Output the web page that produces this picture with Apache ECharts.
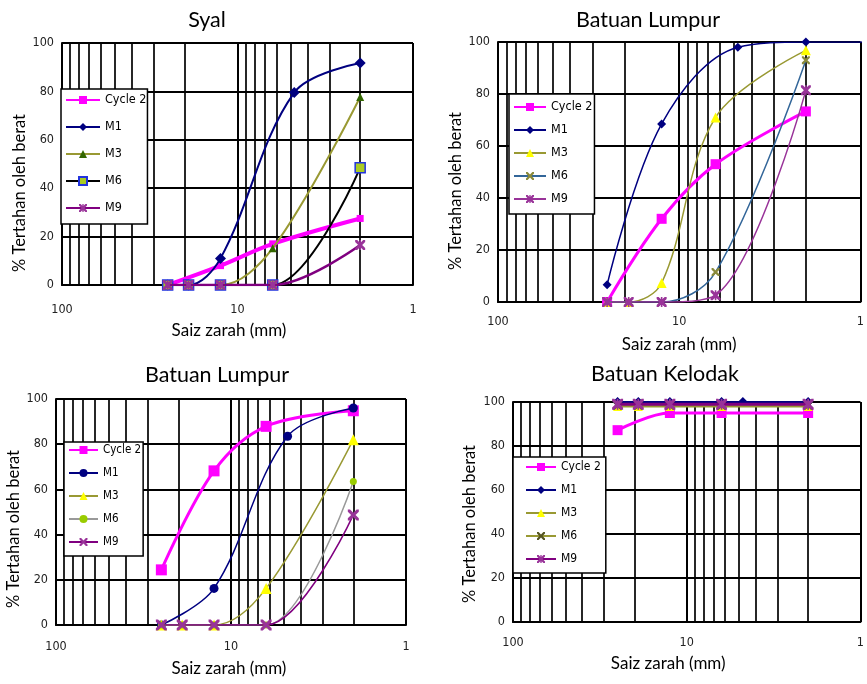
<!DOCTYPE html>
<html><head><meta charset="utf-8">
<script src="https://cdn.jsdelivr.net/npm/echarts@6/dist/echarts.min.js"></script>
<style>html,body{margin:0;padding:0;background:#fff}#c{width:867px;height:684px}</style>
</head><body><div id="c"></div>
<script>
// ---------- data ----------
const titles = ['Syal', 'Batuan Lumpur', 'Batuan Lumpur', 'Batuan Kelodak'];
const seriesNames = ['Cycle 2', 'M1', 'M3', 'M6', 'M9'];
const xAxisName = 'Saiz zarah (mm)';
const yAxisName = '% Tertahan oleh berat';
const yTickStep = 20;
const minorGridSizes = [2, 3, 4, 5, 6, 7, 8, 9, 20, 30, 40, 50, 60, 70, 80, 90];

// Syal
const syalSizes   = [25, 19, 12.5, 6.3, 4.75, 2];
const syalCycle2  = [0, null, 8, 17, null, 27.5];
const syalM1      = [0, 0, 11, null, 79.5, 91.7];
const syalM3      = [0, 0, 0, 15.2, null, 77.7];
const syalM6      = [0, 0, 0, 0, null, 48.4];
const syalM9      = [0, 0, 0, 0, null, 16.5];

// Batuan Lumpur (top right); last size lies beyond the visible axis end
const lumpurASizes  = [25, 19, 12.5, 6.3, 4.75, 2, 0.425];
const lumpurACycle2 = [0, null, 32, 53, null, 73.3, null];
const lumpurAM1     = [6.6, null, 68.5, null, 98, 100, 100];
const lumpurAM3     = [0, 0, 7.3, 71, null, 96.8, null];
const lumpurAM6     = [0, 0, 0, 11.5, null, 93, null];
const lumpurAM9     = [0, 0, 0, 2.6, null, 81.4, null];

// Batuan Lumpur (bottom left)
const lumpurBSizes  = [25, 19, 12.5, 6.3, 4.75, 2];
const lumpurBCycle2 = [24.4, null, 68.2, 87.9, null, 94.8];
const lumpurBM1     = [0, null, 16.2, null, 83.5, 96];
const lumpurBM3     = [0, 0, 0, 16.2, null, 82];
const lumpurBM6     = [0, 0, 0, 0, null, 63.5];
const lumpurBM9     = [0, 0, 0, 0, null, 48.7];

// Batuan Kelodak
const kelodakSizes  = [25, 19, 12.5, 6.3, 4.75, 2];
const kelodakCycle2 = [87.2, null, 95, 95, null, 95];
const kelodakM1     = [100, 100, 100, 100, 100, 100];
const kelodakM3     = [98, 98, 98, 98, null, 98];
const kelodakM6     = [98.5, 98.5, 98.5, 98.5, null, 98.5];
const kelodakM9     = [99, 99, 99, 99, null, 99];

const chartSizes  = [syalSizes, lumpurASizes, lumpurBSizes, kelodakSizes];
const chartValues = [
  [syalCycle2, syalM1, syalM3, syalM6, syalM9],
  [lumpurACycle2, lumpurAM1, lumpurAM3, lumpurAM6, lumpurAM9],
  [lumpurBCycle2, lumpurBM1, lumpurBM3, lumpurBM6, lumpurBM9],
  [kelodakCycle2, kelodakM1, kelodakM3, kelodakM6, kelodakM9]
];

// ---------- styles / layout ----------
const X_PATH = 'path://M0,0L2,0L5,3L8,0L10,0L10,2L7,5L10,8L10,10L8,10L5,7L2,10L0,10L0,8L3,5L0,2Z';
const STAR_PATH = 'path://M0,0L2,0L5,3L8,0L10,0L10,2L7,5L10,8L10,10L8,10L5,7L2,10L0,10L0,8L3,5L0,2ZM4.2,0L5.8,0L5.8,10L4.2,10Z';
const MAG = '#FF00FF', NAVY = '#000080', OLIVE = '#999933', PURPLE = '#800080';

const styles = [
  [ {c: MAG, w: 4, s: 'rect', z: 7, m: MAG},
    {c: NAVY, w: 2, s: 'diamond', z: 11, m: NAVY},
    {c: OLIVE, w: 2, s: 'triangle', z: 8, m: '#336600'},
    {c: '#000000', w: 2, s: 'rect', z: 10, m: '#AACC22', b: '#2233DD'},
    {c: PURPLE, w: 2.5, s: STAR_PATH, z: 10, m: '#993399'} ],
  [ {c: MAG, w: 3, s: 'rect', z: 10, m: MAG},
    {c: NAVY, w: 1.5, s: 'diamond', z: 9, m: NAVY},
    {c: OLIVE, w: 1.5, s: 'triangle', z: 10, m: '#FFFF00'},
    {c: '#336699', w: 1.5, s: X_PATH, z: 8, m: '#8A8A3A'},
    {c: '#993399', w: 1.5, s: STAR_PATH, z: 10, m: '#993399'} ],
  [ {c: MAG, w: 3, s: 'rect', z: 11, m: MAG},
    {c: NAVY, w: 1.5, s: 'circle', z: 9, m: NAVY},
    {c: OLIVE, w: 1.5, s: 'triangle', z: 11, m: '#FFFF00'},
    {c: '#999999', w: 1.5, s: 'circle', z: 7, m: '#99CC00'},
    {c: PURPLE, w: 1.5, s: X_PATH, z: 11, m: '#993399'} ],
  [ {c: MAG, w: 3, s: 'rect', z: 10, m: MAG},
    {c: NAVY, w: 2, s: 'diamond', z: 10, m: NAVY},
    {c: OLIVE, w: 2, s: 'triangle', z: 9, m: '#FFFF00'},
    {c: OLIVE, w: 2, s: X_PATH, z: 9, m: '#555522'},
    {c: PURPLE, w: 3, s: STAR_PATH, z: 11, m: '#993399'} ]
];

const grids = [
  {left: 62, top: 43, width: 351, height: 242},
  {left: 498, top: 42, width: 366, height: 260},
  {left: 56, top: 399, width: 350, height: 226},
  {left: 513, top: 402, width: 361, height: 220}
];
const titlePos = [[207, 9], [648, 9], [217, 364], [665, 363]];
const xNameGap = [37, 34, 35, 33];
const xNamePadR = [17, 0, 4, 37];
const xLabelMargin = [18, 13, 15, 14];
const yNameGap = [32, 33, 28, 35];
const yNamePadR = [58, 38, 34, 24];
const legendPos = [
  {left: 61, top: 89, gap: 13, iw: 34, pad: [4, 1, 9, 4], fs: 12.5},
  {left: 509, top: 94, gap: 9, iw: 32, pad: [6, 2, 8, 4], fs: 12.5},
  {left: 64, top: 442, gap: 9, iw: 29, pad: [1, 2, 7, 4], fs: 11.5},
  {left: 513, top: 457, gap: 9, iw: 30, pad: [3, 5, 7, 12], fs: 12}
];

const NARROW = "'Liberation Sans Narrow', 'Arial Narrow', 'DejaVu Sans Condensed', sans-serif";
const HUMAN = "Lato, 'Open Sans', sans-serif";
const GRID_W = 2;

const option = {
  animation: false,
  backgroundColor: '#fff',
  title: [], grid: [], xAxis: [], yAxis: [], legend: [], series: []
};

for (let i = 0; i < 4; i++) {
  const suffix = ' '.repeat(i);
  option.grid.push(Object.assign({containLabel: false}, grids[i]));
  option.title.push({
    text: titles[i], left: titlePos[i][0], top: titlePos[i][1], textAlign: 'center', padding: 0,
    textStyle: {fontFamily: HUMAN, fontSize: 21.5, fontWeight: 'normal', color: '#000'}
  });
  option.xAxis.push({
    type: 'log', logBase: 10, min: 1, max: 100, inverse: true, gridIndex: i,
    name: xAxisName, nameLocation: 'middle', nameGap: xNameGap[i],
    nameTextStyle: {fontFamily: HUMAN, fontSize: 17, color: '#000', padding: [0, xNamePadR[i], 0, 0]},
    axisLine: {lineStyle: {color: '#000', width: GRID_W}},
    axisTick: {show: false},
    axisLabel: {margin: xLabelMargin[i], fontFamily: NARROW, fontSize: 12.5, color: '#222'},
    splitLine: {show: true, lineStyle: {color: '#000', width: GRID_W}}
  });
  option.yAxis.push({
    type: 'value', min: 0, max: 100, interval: yTickStep, gridIndex: i,
    name: yAxisName, nameLocation: 'middle', nameGap: yNameGap[i],
    nameTextStyle: {fontFamily: HUMAN, fontSize: 16.5, color: '#000', padding: [0, yNamePadR[i], 0, 0]},
    axisLine: {lineStyle: {color: '#000', width: GRID_W}},
    axisTick: {show: false},
    axisLabel: {margin: 8, fontFamily: NARROW, fontSize: 12.5, color: '#222'},
    splitLine: {show: true, lineStyle: {color: '#000', width: GRID_W}}
  });
  // minor log grid lines
  option.series.push({
    type: 'line', xAxisIndex: i, yAxisIndex: i, data: [], silent: true, z: 1,
    markLine: {
      silent: true, z: 1, symbol: ['none', 'none'], animation: false,
      label: {show: false}, emphasis: {disabled: true},
      lineStyle: {color: '#000', width: 1.7, type: 'solid'},
      data: minorGridSizes.map(v => ({xAxis: v}))
    }
  });
  const lp = legendPos[i];
  option.legend.push({
    orient: 'vertical', left: lp.left, top: lp.top, padding: lp.pad,
    itemGap: lp.gap, itemWidth: lp.iw, itemHeight: 10,
    borderColor: '#000', borderWidth: 1.5, backgroundColor: '#fff', borderRadius: 0,
    selectedMode: false, z: 20,
    formatter: n => n.trim(),
    textStyle: {fontFamily: NARROW, fontSize: lp.fs, color: '#000', lineHeight: 14},
    data: seriesNames.map(n => n + suffix)
  });
  seriesNames.forEach((n, k) => {
    const st = styles[i][k];
    const vals = chartValues[i][k];
    const sizes = chartSizes[i];
    const data = [];
    sizes.forEach((sz, j) => { if (vals[j] !== null && vals[j] !== undefined) data.push([sz, vals[j]]); });
    option.series.push({
      type: 'line', name: n + suffix, xAxisIndex: i, yAxisIndex: i, z: 3 + k,
      data: data, smooth: 0.35, connectNulls: true, clip: true,
      symbol: st.s, symbolSize: st.z, showAllSymbol: true,
      lineStyle: {color: st.c, width: st.w},
      itemStyle: {color: st.m, borderColor: st.b || st.m, borderWidth: st.b ? 1.5 : 0},
      emphasis: {disabled: true}
    });
  });
}

const chart = echarts.init(document.getElementById('c'), null, {renderer: 'canvas'});
chart.setOption(option);
</script>
</body></html>
